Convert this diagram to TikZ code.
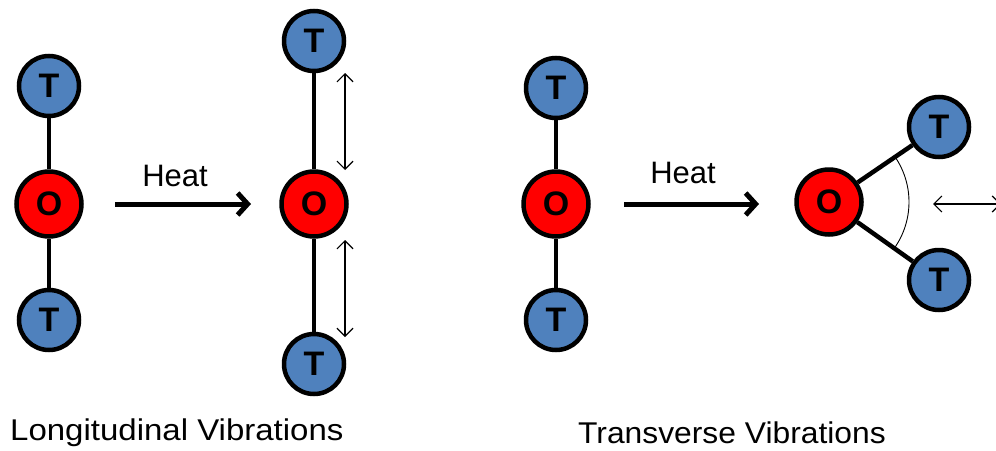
\documentclass[tikz,border=0pt]{standalone}
\usepackage{fontspec}
\usepackage{graphicx}
\setmainfont{Liberation Sans}
\usetikzlibrary{arrows.meta,calc}
\definecolor{tblue}{RGB}{79,129,189}
\definecolor{ored}{RGB}{255,0,0}
\tikzset{
  atomT/.style={circle,draw=black,line width=4.5pt,fill=tblue,minimum size=60pt,inner sep=0pt,font=\fontsize{34}{34}\selectfont\bfseries},
  atomO/.style={circle,draw=black,line width=4.5pt,fill=ored,minimum size=65pt,inner sep=0pt,font=\fontsize{34}{34}\selectfont\bfseries},
  bond/.style={line width=4.5pt},
  heatarrow/.style={line width=5pt,-{Straight Barb[length=10pt,width=22pt]}},
  vib/.style={line width=1.2pt,{Straight Barb[length=8pt,width=16pt]}-{Straight Barb[length=8pt,width=16pt]}},
  heatlbl/.style={inner sep=0pt,font=\fontsize{31}{31}\selectfont},
  lbl/.style={inner sep=0pt,font=\fontsize{30}{30}\selectfont}
}
\begin{document}
\begin{tikzpicture}[x=1pt,y=-1pt]
\useasboundingbox (0,0) rectangle (996,450);
% left molecule
\node[atomT] (t1) at (49,86) {T};
\node[atomO] (o1) at (49,204) {O};
\node[atomT] (t2) at (49,320) {T};
\draw[bond] (t1) -- (o1);
\draw[bond] (o1) -- (t2);
% heat arrow 1
\coordinate (h1s) at (115,204);
\coordinate (h1e) at (251,204);
\draw[heatarrow] (h1s) -- (h1e);
\node[heatlbl] (heat1) at (175,176) {Heat};
% middle molecule
\node[atomT] (t3) at (314,41) {T};
\node[atomO] (o2) at (314,204) {O};
\node[atomT] (t4) at (314,364) {T};
\draw[bond] (t3) -- (o2);
\draw[bond] (o2) -- (t4);
\coordinate (v1a) at (345,73);
\coordinate (v1b) at (345,170);
\coordinate (v2a) at (345,240);
\coordinate (v2b) at (345,337);
\draw[vib] (v1a) -- (v1b);
\draw[vib] (v2a) -- (v2b);
% right molecule
\node[atomT] (t5) at (556,88) {T};
\node[atomO] (o3) at (556,204) {O};
\node[atomT] (t6) at (556,320) {T};
\draw[bond] (t5) -- (o3);
\draw[bond] (o3) -- (t6);
% heat arrow 2
\coordinate (h2s) at (624,204);
\coordinate (h2e) at (759,204);
\draw[heatarrow] (h2s) -- (h2e);
\node[heatlbl] (heat2) at (683,173) {Heat};
% bent molecule
\node[atomO] (o4) at (829,202) {O};
\node[atomT] (t7) at (939,127) {T};
\node[atomT] (t8) at (939,280) {T};
\draw[bond] (o4) -- (t7);
\draw[bond] (o4) -- (t8);
\draw[line width=0.9pt] ($(o4.center)+(-34.3:80)$) arc[start angle=-34.3,end angle=35.3,radius=80];
\coordinate (ha) at (933,204);
\coordinate (hb) at (1001,204);
\draw[vib] (ha) -- (hb);
% labels
\node[lbl,anchor=west] (lab1) at (10,433) {\scalebox{1.1}[1]{Longitudinal Vibrations}};
\node[lbl,anchor=west] (lab2) at (578,433) {\scalebox{1.06}[1]{Transverse Vibrations}};
\end{tikzpicture}
\end{document}
